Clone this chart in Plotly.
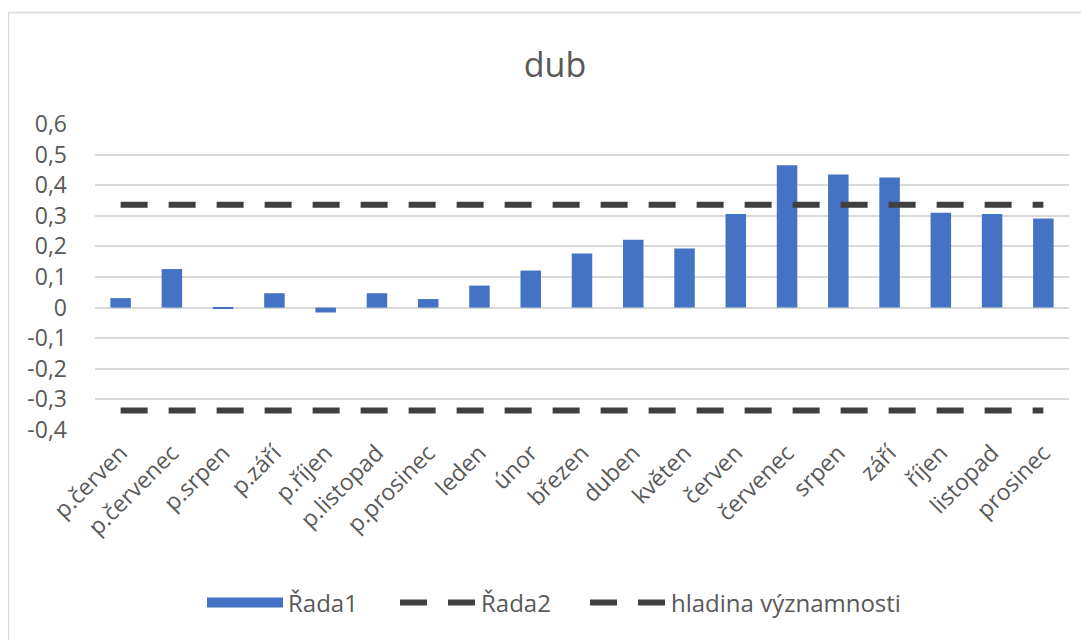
import plotly.graph_objects as go

categories = ["p.červen", "p.červenec", "p.srpen", "p.září", "p.říjen", "p.listopad",
              "p.prosinec", "leden", "únor", "březen", "duben", "květen", "červen",
              "červenec", "srpen", "září", "říjen", "listopad", "prosinec"]
rada1 = [0.031, 0.126, -0.003, 0.047, -0.016, 0.047, 0.028, 0.072, 0.121, 0.177,
         0.222, 0.193, 0.306, 0.465, 0.435, 0.425, 0.310, 0.306, 0.291]
rada2 = [0.336] * len(categories)
hladina = [-0.336] * len(categories)
ytick_vals = [0.6, 0.5, 0.4, 0.3, 0.2, 0.1, 0, -0.1, -0.2, -0.3, -0.4]
ytick_text = ["0,6", "0,5", "0,4", "0,3", "0,2", "0,1", "0", "-0,1", "-0,2", "-0,3", "-0,4"]

OFF = 8  # page body margin
W, H = 1089 - OFF, 640 - OFF
L, T = 95 - OFF, 124 - OFF
R = W - (1069 - OFF)
B = H - (430 - OFF)
pw, ph = W - L - R, H - T - B

def px_x(p):  # window pixel -> paper
    return (p - OFF - L) / pw

def px_y(p):
    return (H - B - (p - OFF)) / ph

GREY = "#595959"
fig = go.Figure()
fig.add_trace(go.Bar(x=categories, y=rada1, name="Řada1", showlegend=False,
                     marker=dict(color="#4472C4", line=dict(width=0))))
# legend proxy for the bars (wide rectangle symbol)
fig.add_trace(go.Scatter(x=[None], y=[None], name="Řada1", mode="lines", legend="legend",
                         line=dict(color="#4472C4", width=16), hoverinfo="skip"))
fig.add_trace(go.Scatter(x=categories, y=rada2, name="Řada2", mode="lines", legend="legend2",
                         line=dict(color="#404040", width=6, dash="27px,21px")))
fig.add_trace(go.Scatter(x=categories, y=hladina, name="hladina významnosti", mode="lines",
                         legend="legend3",
                         line=dict(color="#404040", width=6, dash="27px,21px")))

def legend_at(xpix):
    return dict(orientation="h", x=px_x(xpix), xanchor="left",
                y=px_y(603), yanchor="middle", bgcolor="rgba(0,0,0,0)",
                font=dict(family="Open Sans", size=24, color=GREY),
                itemwidth=76)

fig.update_layout(
    width=W, height=H,
    margin=dict(l=L, r=R, t=T, b=B, autoexpand=False),
    paper_bgcolor="white", plot_bgcolor="white",
    bargap=0.6,
    font=dict(family="Open Sans", color=GREY, size=21),
    title=dict(text="dub", x=px_x(555), xanchor="center", xref="paper",
               y=1 - (65 - OFF) / H, yanchor="middle",
               font=dict(family="Open Sans", size=34, color=GREY)),
    xaxis=dict(type="category", tickangle=-45, showgrid=False, zeroline=False,
               showline=False, ticks="", automargin=False, ticklabelstandoff=4,
               tickfont=dict(size=23, color=GREY)),
    yaxis=dict(range=[-0.4, 0.6], tickvals=ytick_vals, ticktext=ytick_text,
               showgrid=True, gridcolor="#d9d9d9", gridwidth=1.5,
               zeroline=True, zerolinecolor="#d9d9d9", zerolinewidth=1.5,
               ticks="", ticklabelstandoff=27, automargin=False,
               tickfont=dict(size=23, color=GREY)),
    legend=legend_at(202),
    legend2=legend_at(395),
    legend3=legend_at(585),
    showlegend=True,
    shapes=[dict(type="rect", xref="paper", yref="paper",
                 x0=px_x(8.5), x1=px_x(1100), y0=px_y(660), y1=px_y(12.5),
                 line=dict(color="#d9d9d9", width=1.5), fillcolor="rgba(0,0,0,0)",
                 layer="below")],
)

fig.write_html("out.html")
